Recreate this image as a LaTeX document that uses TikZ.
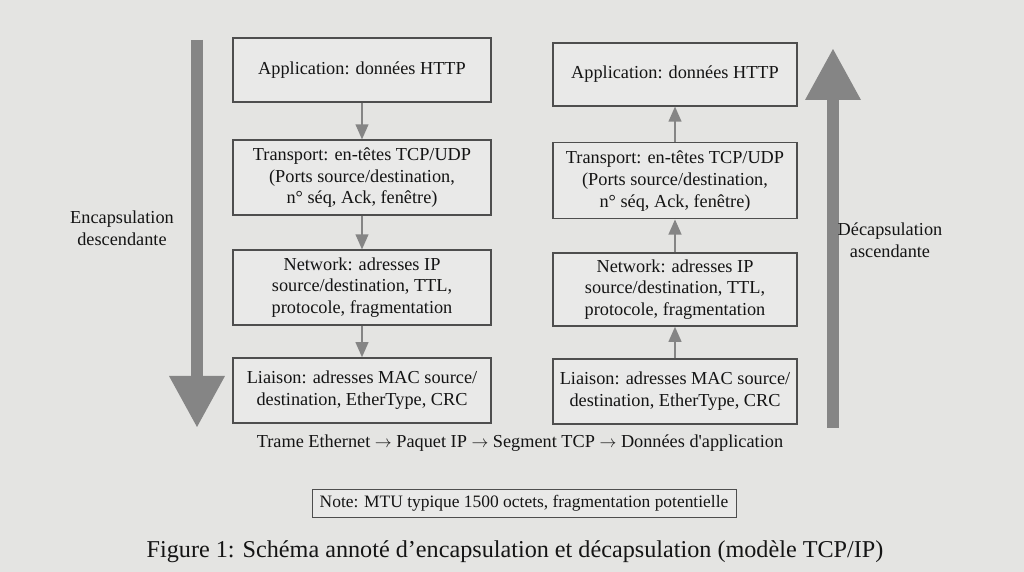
\documentclass[tikz,border=0pt]{standalone}
\usepackage{fontspec}
\setmainfont{Liberation Serif}[Ligatures=TeXOff]
\usetikzlibrary{arrows.meta, positioning}
\definecolor{paper}{HTML}{E4E4E2}
\definecolor{boxfill}{HTML}{E9E9E8}
\definecolor{ink}{HTML}{141414}
\definecolor{frame}{HTML}{4E4E4E}
\definecolor{flow}{HTML}{858585}
\tikzset{
  layer/.style={draw=frame, fill=boxfill, line width=0.9pt, align=center, text=ink,
    font=\fontsize{13}{15.6}\selectfont, inner sep=0pt},
  hop/.style={draw=flow, line width=1.4pt, -{Triangle[length=0.38cm,width=0.32cm]}},
  bigflow/.style={draw=flow, line width=0.32cm, -{Triangle[length=1.3cm,width=1.3cm]}},
  remark/.style={align=center, text=ink, font=\fontsize{13}{15.6}\selectfont}
}
\begin{document}
\begin{tikzpicture}[x=1cm,y=1cm]
\fill[paper] (0,0) rectangle (25.6,14.3);
\node[layer, minimum width=6.45cm, minimum height=1.6cm] (appL) at (9.05,12.55) {Application: données HTTP};
\node[layer, minimum width=6.45cm, minimum height=1.875cm] (trL) at (9.05,9.86) {Transport: en-têtes TCP/UDP\\(Ports source/destination,\\n° séq, Ack, fenêtre)};
\node[layer, minimum width=6.45cm, minimum height=1.875cm] (netL) at (9.05,7.11) {Network: adresses IP\\source/destination, TTL,\\protocole, fragmentation};
\node[layer, minimum width=6.45cm, minimum height=1.625cm] (liL) at (9.05,4.54) {Liaison: adresses MAC source/\\destination, EtherType, CRC};

\node[layer, minimum width=6.1cm, minimum height=1.575cm] (appR) at (16.875,12.44) {Application: données HTTP};
\node[layer, minimum width=6.1cm, minimum height=1.9cm] (trR) at (16.875,9.78) {Transport: en-têtes TCP/UDP\\(Ports source/destination,\\n° séq, Ack, fenêtre)};
\node[layer, minimum width=6.1cm, minimum height=1.825cm] (netR) at (16.875,7.06) {Network: adresses IP\\source/destination, TTL,\\protocole, fragmentation};
\node[layer, minimum width=6.1cm, minimum height=1.625cm] (liR) at (16.875,4.51) {Liaison: adresses MAC source/\\destination, EtherType, CRC};

\draw[hop] (appL) -- (trL);
\draw[hop] (trL) -- (netL);
\draw[hop] (netL) -- (liL);
\draw[hop] (liR) -- (netR);
\draw[hop] (netR) -- (trR);
\draw[hop] (trR) -- (appR);

\coordinate (encTop) at (4.925,13.3);
\coordinate (encBot) at (4.925,3.6);
\coordinate (decBot) at (20.825,3.6);
\coordinate (decTop) at (20.825,13.1);
\draw[bigflow] (encTop) -- (encBot);
\draw[bigflow] (decBot) -- (decTop);
\node[remark] (encLabel) at (3.05,8.6) {Encapsulation\\descendante};
\node[remark] (decLabel) at (22.25,8.3) {Décapsulation\\ascendante};

\node[remark] (chain) at (13.0,3.22) {Trame Ethernet \(\rightarrow\) Paquet IP \(\rightarrow\) Segment TCP \(\rightarrow\) Données d'application};
\node[remark, draw=frame, fill=boxfill, line width=0.7pt, font=\fontsize{12.4}{14}\selectfont, minimum width=10.6cm, minimum height=0.7cm, inner sep=0pt] (mtu) at (13.1,1.72) {Note: MTU typique 1500 octets, fragmentation potentielle};
\node[remark, font=\fontsize{17.2}{20}\selectfont] (caption) at (12.875,0.5) {Figure 1: Schéma annoté d’encapsulation et décapsulation (modèle TCP/IP)};
\end{tikzpicture}
\end{document}
